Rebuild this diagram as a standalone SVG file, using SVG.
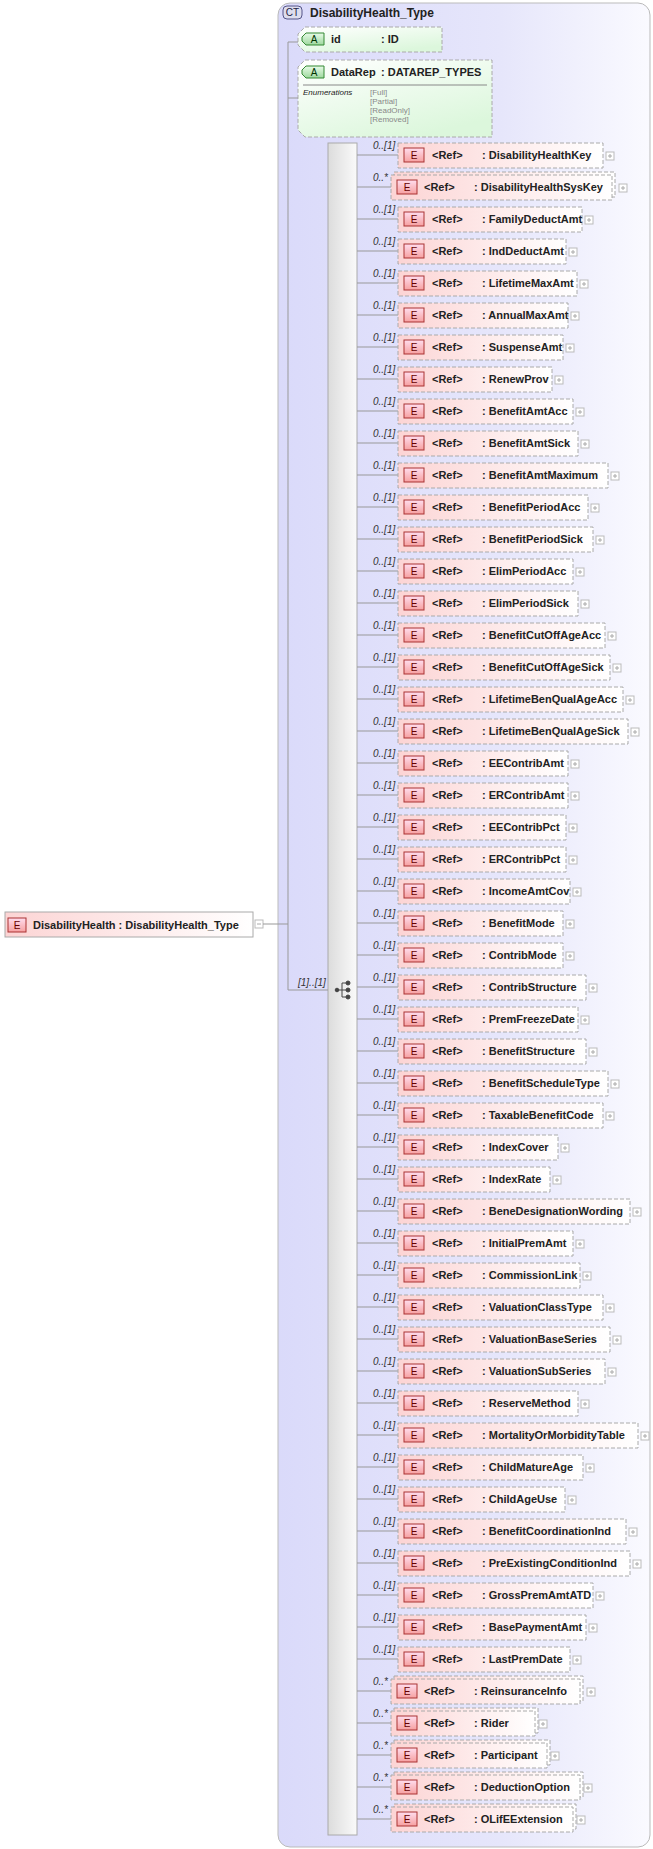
<svg xmlns="http://www.w3.org/2000/svg" width="653" height="1849" viewBox="0 0 653 1849">
<style>
text{font-family:"Liberation Sans",Arial,sans-serif;font-size:11px;fill:#222}
.b{font-weight:bold}
.m{font-style:italic;font-size:10px;fill:#333}
.eb{fill:url(#eg);stroke:#aaa;stroke-dasharray:4 2}
.ebs{fill:url(#eg);stroke:#aaa;stroke-dasharray:4 2}
.bd{fill:url(#bg);stroke:#a33}
.bt{font-size:10px;text-anchor:middle;fill:#600}
.pl{fill:#fff;stroke:#bbb}
.pt{stroke:#aaa;stroke-width:1}
.ln{stroke:#999;fill:none}
.en{font-size:8px;fill:#888}
</style>
<defs>
<linearGradient id="eg" x1="0" y1="0" x2="1" y2="0"><stop offset="0" stop-color="#fcd4d4"/><stop offset="1" stop-color="#fff"/></linearGradient>
<linearGradient id="bg" x1="0" y1="0" x2="0" y2="1"><stop offset="0" stop-color="#fde"/><stop offset="1" stop-color="#f6a0a0"/></linearGradient>
<linearGradient id="ag" x1="0" y1="0" x2="0.6" y2="1"><stop offset="0" stop-color="#fff"/><stop offset="1" stop-color="#dcf7dc"/></linearGradient>
<linearGradient id="ab" x1="0" y1="0" x2="0" y2="1"><stop offset="0" stop-color="#e8fbe8"/><stop offset="1" stop-color="#9ed89e"/></linearGradient>
<linearGradient id="pg" x1="0" y1="0" x2="1" y2="0"><stop offset="0" stop-color="#dadafa"/><stop offset="0.6" stop-color="#e6e6fb"/><stop offset="1" stop-color="#fafaff"/></linearGradient>
<linearGradient id="sg" x1="0" y1="0" x2="1" y2="0"><stop offset="0" stop-color="#dcdcdc"/><stop offset="1" stop-color="#fafafa"/></linearGradient>
<symbol id="pl" overflow="visible"><rect x="0" y="0" width="8" height="8" class="pl"/><path d="M2,4 H6 M4,2 V6" class="pt"/></symbol>
</defs>
<g id="ct">
<rect x="278" y="3" width="372" height="1844" rx="12" fill="url(#pg)" stroke="#bbb"/>
<rect x="283" y="6" width="19" height="13" rx="4" fill="#dde" stroke="#558"/>
<text x="292.5" y="16" class="bt" style="fill:#224">CT</text>
<text x="310" y="17" class="b" style="font-size:12px">DisabilityHealth_Type</text>
</g>
<g id="root">
<rect x="5" y="912" width="248" height="25" fill="url(#eg)" stroke="#aaa"/>
<rect x="8" y="918" width="18" height="14" class="bd"/><text x="17" y="929" class="bt">E</text>
<text x="33" y="929" class="b">DisabilityHealth : DisabilityHealth_Type</text>
<rect x="255" y="920" width="8" height="8" class="pl"/><line x1="257" y1="924" x2="261" y2="924" class="pt"/>
</g>
<g id="attr-id">
<path d="M305,27 H442 V52 H305 L298,45 V34 Z" fill="url(#ag)" stroke="#aaa" stroke-dasharray="4 2"/>
<path d="M306,33 H324 V45 H306 L302,41 V37 Z" fill="url(#ab)" stroke="#383"/>
<text x="314" y="43" class="bt" style="fill:#030">A</text>
<text x="331" y="43" class="b">id</text><text x="381" y="43" class="b">: ID</text>
</g>
<g id="attr-DataRep">
<path d="M305,60 H492 V137 H305 L298,130 V67 Z" fill="url(#ag)" stroke="#aaa" stroke-dasharray="4 2"/>
<path d="M306,66 H324 V78 H306 L302,74 V70 Z" fill="url(#ab)" stroke="#383"/>
<text x="314" y="76" class="bt" style="fill:#030">A</text>
<text x="331" y="76" class="b">DataRep</text><text x="381" y="76" class="b">: DATAREP_TYPES</text>
<line x1="303" y1="85" x2="487" y2="85" stroke="#888"/>
<text x="303" y="95" style="font-size:8px;font-style:italic">Enumerations</text>
<text x="370" y="95" class="en">[Full]</text><text x="370" y="104" class="en">[Partial]</text><text x="370" y="113" class="en">[ReadOnly]</text><text x="370" y="122" class="en">[Removed]</text>
</g>
<g id="sequence">
<rect x="328" y="143" width="29" height="1692" fill="url(#sg)" stroke="#aaa"/>
<g fill="#444" stroke="#444"><circle cx="337" cy="990" r="1.8"/><line x1="337" y1="990" x2="342" y2="990"/><line x1="342" y1="983" x2="342" y2="997"/><line x1="342" y1="983" x2="348" y2="983"/><line x1="342" y1="990" x2="348" y2="990"/><line x1="342" y1="997" x2="348" y2="997"/><circle cx="348" cy="983" r="2"/><circle cx="348" cy="990" r="2"/><circle cx="348" cy="997" r="2"/></g>
</g>
<g id="connectors" class="ln">
<path d="M263,924 H288 M288,42 V990 M288,42 H298 M288,98 H298 M288,990 H328"/>
<path id="rows" d="M357,155 H398 M357,187 H391 M357,219 H398 M357,251 H398 M357,283 H398 M357,315 H398 M357,347 H398 M357,379 H398 M357,411 H398 M357,443 H398 M357,475 H398 M357,507 H398 M357,539 H398 M357,571 H398 M357,603 H398 M357,635 H398 M357,667 H398 M357,699 H398 M357,731 H398 M357,763 H398 M357,795 H398 M357,827 H398 M357,859 H398 M357,891 H398 M357,923 H398 M357,955 H398 M357,987 H398 M357,1019 H398 M357,1051 H398 M357,1083 H398 M357,1115 H398 M357,1147 H398 M357,1179 H398 M357,1211 H398 M357,1243 H398 M357,1275 H398 M357,1307 H398 M357,1339 H398 M357,1371 H398 M357,1403 H398 M357,1435 H398 M357,1467 H398 M357,1499 H398 M357,1531 H398 M357,1563 H398 M357,1595 H398 M357,1627 H398 M357,1659 H398 M357,1691 H391 M357,1723 H391 M357,1755 H391 M357,1787 H391 M357,1819 H391"/>
</g>
<g id="labels">
<text x="298" y="986" class="m">[1]..[1]</text>
<text x="373" y="149" class="m">0..[1]</text><text x="373" y="181" class="m">0..*</text>
<text x="373" y="213" class="m">0..[1]</text><text x="373" y="245" class="m">0..[1]</text><text x="373" y="277" class="m">0..[1]</text><text x="373" y="309" class="m">0..[1]</text><text x="373" y="341" class="m">0..[1]</text><text x="373" y="373" class="m">0..[1]</text><text x="373" y="405" class="m">0..[1]</text><text x="373" y="437" class="m">0..[1]</text><text x="373" y="469" class="m">0..[1]</text><text x="373" y="501" class="m">0..[1]</text><text x="373" y="533" class="m">0..[1]</text><text x="373" y="565" class="m">0..[1]</text><text x="373" y="597" class="m">0..[1]</text><text x="373" y="629" class="m">0..[1]</text><text x="373" y="661" class="m">0..[1]</text><text x="373" y="693" class="m">0..[1]</text><text x="373" y="725" class="m">0..[1]</text><text x="373" y="757" class="m">0..[1]</text><text x="373" y="789" class="m">0..[1]</text><text x="373" y="821" class="m">0..[1]</text><text x="373" y="853" class="m">0..[1]</text><text x="373" y="885" class="m">0..[1]</text><text x="373" y="917" class="m">0..[1]</text><text x="373" y="949" class="m">0..[1]</text><text x="373" y="981" class="m">0..[1]</text><text x="373" y="1013" class="m">0..[1]</text><text x="373" y="1045" class="m">0..[1]</text><text x="373" y="1077" class="m">0..[1]</text><text x="373" y="1109" class="m">0..[1]</text><text x="373" y="1141" class="m">0..[1]</text><text x="373" y="1173" class="m">0..[1]</text><text x="373" y="1205" class="m">0..[1]</text><text x="373" y="1237" class="m">0..[1]</text><text x="373" y="1269" class="m">0..[1]</text><text x="373" y="1301" class="m">0..[1]</text><text x="373" y="1333" class="m">0..[1]</text><text x="373" y="1365" class="m">0..[1]</text><text x="373" y="1397" class="m">0..[1]</text><text x="373" y="1429" class="m">0..[1]</text><text x="373" y="1461" class="m">0..[1]</text><text x="373" y="1493" class="m">0..[1]</text><text x="373" y="1525" class="m">0..[1]</text><text x="373" y="1557" class="m">0..[1]</text><text x="373" y="1589" class="m">0..[1]</text><text x="373" y="1621" class="m">0..[1]</text><text x="373" y="1653" class="m">0..[1]</text>
<text x="373" y="1685" class="m">0..*</text><text x="373" y="1717" class="m">0..*</text><text x="373" y="1749" class="m">0..*</text><text x="373" y="1781" class="m">0..*</text><text x="373" y="1813" class="m">0..*</text>
</g>
<g id="e-DisabilityHealthKey"><rect class="eb" x="398" y="143" width="205" height="25"/><rect class="bd" x="404" y="148" width="20" height="14"/><text class="bt" x="414" y="159">E</text><text class="b" x="432" y="159">&lt;Ref&gt;</text><text class="b" x="482" y="159">: DisabilityHealthKey</text><use href="#pl" x="606" y="152"/></g>
<g id="e-DisabilityHealthSysKey"><rect class="eb" x="394" y="172" width="221" height="25"/><rect class="ebs" x="391" y="175" width="221" height="25"/><rect class="bd" x="397" y="180" width="20" height="14"/><text class="bt" x="407" y="191">E</text><text class="b" x="424" y="191">&lt;Ref&gt;</text><text class="b" x="474" y="191">: DisabilityHealthSysKey</text><use href="#pl" x="619" y="184"/></g>
<g id="e-FamilyDeductAmt"><rect class="eb" x="398" y="207" width="184" height="25"/><rect class="bd" x="404" y="212" width="20" height="14"/><text class="bt" x="414" y="223">E</text><text class="b" x="432" y="223">&lt;Ref&gt;</text><text class="b" x="482" y="223">: FamilyDeductAmt</text><use href="#pl" x="585" y="216"/></g>
<g id="e-IndDeductAmt"><rect class="eb" x="398" y="239" width="168" height="25"/><rect class="bd" x="404" y="244" width="20" height="14"/><text class="bt" x="414" y="255">E</text><text class="b" x="432" y="255">&lt;Ref&gt;</text><text class="b" x="482" y="255">: IndDeductAmt</text><use href="#pl" x="569" y="248"/></g>
<g id="e-LifetimeMaxAmt"><rect class="eb" x="398" y="271" width="179" height="25"/><rect class="bd" x="404" y="276" width="20" height="14"/><text class="bt" x="414" y="287">E</text><text class="b" x="432" y="287">&lt;Ref&gt;</text><text class="b" x="482" y="287">: LifetimeMaxAmt</text><use href="#pl" x="580" y="280"/></g>
<g id="e-AnnualMaxAmt"><rect class="eb" x="398" y="303" width="170" height="25"/><rect class="bd" x="404" y="308" width="20" height="14"/><text class="bt" x="414" y="319">E</text><text class="b" x="432" y="319">&lt;Ref&gt;</text><text class="b" x="482" y="319">: AnnualMaxAmt</text><use href="#pl" x="571" y="312"/></g>
<g id="e-SuspenseAmt"><rect class="eb" x="398" y="335" width="165" height="25"/><rect class="bd" x="404" y="340" width="20" height="14"/><text class="bt" x="414" y="351">E</text><text class="b" x="432" y="351">&lt;Ref&gt;</text><text class="b" x="482" y="351">: SuspenseAmt</text><use href="#pl" x="566" y="344"/></g>
<g id="e-RenewProv"><rect class="eb" x="398" y="367" width="154" height="25"/><rect class="bd" x="404" y="372" width="20" height="14"/><text class="bt" x="414" y="383">E</text><text class="b" x="432" y="383">&lt;Ref&gt;</text><text class="b" x="482" y="383">: RenewProv</text><use href="#pl" x="555" y="376"/></g>
<g id="e-BenefitAmtAcc"><rect class="eb" x="398" y="399" width="175" height="25"/><rect class="bd" x="404" y="404" width="20" height="14"/><text class="bt" x="414" y="415">E</text><text class="b" x="432" y="415">&lt;Ref&gt;</text><text class="b" x="482" y="415">: BenefitAmtAcc</text><use href="#pl" x="576" y="408"/></g>
<g id="e-BenefitAmtSick"><rect class="eb" x="398" y="431" width="180" height="25"/><rect class="bd" x="404" y="436" width="20" height="14"/><text class="bt" x="414" y="447">E</text><text class="b" x="432" y="447">&lt;Ref&gt;</text><text class="b" x="482" y="447">: BenefitAmtSick</text><use href="#pl" x="581" y="440"/></g>
<g id="e-BenefitAmtMaximum"><rect class="eb" x="398" y="463" width="210" height="25"/><rect class="bd" x="404" y="468" width="20" height="14"/><text class="bt" x="414" y="479">E</text><text class="b" x="432" y="479">&lt;Ref&gt;</text><text class="b" x="482" y="479">: BenefitAmtMaximum</text><use href="#pl" x="611" y="472"/></g>
<g id="e-BenefitPeriodAcc"><rect class="eb" x="398" y="495" width="190" height="25"/><rect class="bd" x="404" y="500" width="20" height="14"/><text class="bt" x="414" y="511">E</text><text class="b" x="432" y="511">&lt;Ref&gt;</text><text class="b" x="482" y="511">: BenefitPeriodAcc</text><use href="#pl" x="591" y="504"/></g>
<g id="e-BenefitPeriodSick"><rect class="eb" x="398" y="527" width="195" height="25"/><rect class="bd" x="404" y="532" width="20" height="14"/><text class="bt" x="414" y="543">E</text><text class="b" x="432" y="543">&lt;Ref&gt;</text><text class="b" x="482" y="543">: BenefitPeriodSick</text><use href="#pl" x="596" y="536"/></g>
<g id="e-ElimPeriodAcc"><rect class="eb" x="398" y="559" width="175" height="25"/><rect class="bd" x="404" y="564" width="20" height="14"/><text class="bt" x="414" y="575">E</text><text class="b" x="432" y="575">&lt;Ref&gt;</text><text class="b" x="482" y="575">: ElimPeriodAcc</text><use href="#pl" x="576" y="568"/></g>
<g id="e-ElimPeriodSick"><rect class="eb" x="398" y="591" width="180" height="25"/><rect class="bd" x="404" y="596" width="20" height="14"/><text class="bt" x="414" y="607">E</text><text class="b" x="432" y="607">&lt;Ref&gt;</text><text class="b" x="482" y="607">: ElimPeriodSick</text><use href="#pl" x="581" y="600"/></g>
<g id="e-BenefitCutOffAgeAcc"><rect class="eb" x="398" y="623" width="207" height="25"/><rect class="bd" x="404" y="628" width="20" height="14"/><text class="bt" x="414" y="639">E</text><text class="b" x="432" y="639">&lt;Ref&gt;</text><text class="b" x="482" y="639">: BenefitCutOffAgeAcc</text><use href="#pl" x="608" y="632"/></g>
<g id="e-BenefitCutOffAgeSick"><rect class="eb" x="398" y="655" width="212" height="25"/><rect class="bd" x="404" y="660" width="20" height="14"/><text class="bt" x="414" y="671">E</text><text class="b" x="432" y="671">&lt;Ref&gt;</text><text class="b" x="482" y="671">: BenefitCutOffAgeSick</text><use href="#pl" x="613" y="664"/></g>
<g id="e-LifetimeBenQualAgeAcc"><rect class="eb" x="398" y="687" width="225" height="25"/><rect class="bd" x="404" y="692" width="20" height="14"/><text class="bt" x="414" y="703">E</text><text class="b" x="432" y="703">&lt;Ref&gt;</text><text class="b" x="482" y="703">: LifetimeBenQualAgeAcc</text><use href="#pl" x="626" y="696"/></g>
<g id="e-LifetimeBenQualAgeSick"><rect class="eb" x="398" y="719" width="230" height="25"/><rect class="bd" x="404" y="724" width="20" height="14"/><text class="bt" x="414" y="735">E</text><text class="b" x="432" y="735">&lt;Ref&gt;</text><text class="b" x="482" y="735">: LifetimeBenQualAgeSick</text><use href="#pl" x="631" y="728"/></g>
<g id="e-EEContribAmt"><rect class="eb" x="398" y="751" width="170" height="25"/><rect class="bd" x="404" y="756" width="20" height="14"/><text class="bt" x="414" y="767">E</text><text class="b" x="432" y="767">&lt;Ref&gt;</text><text class="b" x="482" y="767">: EEContribAmt</text><use href="#pl" x="571" y="760"/></g>
<g id="e-ERContribAmt"><rect class="eb" x="398" y="783" width="170" height="25"/><rect class="bd" x="404" y="788" width="20" height="14"/><text class="bt" x="414" y="799">E</text><text class="b" x="432" y="799">&lt;Ref&gt;</text><text class="b" x="482" y="799">: ERContribAmt</text><use href="#pl" x="571" y="792"/></g>
<g id="e-EEContribPct"><rect class="eb" x="398" y="815" width="168" height="25"/><rect class="bd" x="404" y="820" width="20" height="14"/><text class="bt" x="414" y="831">E</text><text class="b" x="432" y="831">&lt;Ref&gt;</text><text class="b" x="482" y="831">: EEContribPct</text><use href="#pl" x="569" y="824"/></g>
<g id="e-ERContribPct"><rect class="eb" x="398" y="847" width="168" height="25"/><rect class="bd" x="404" y="852" width="20" height="14"/><text class="bt" x="414" y="863">E</text><text class="b" x="432" y="863">&lt;Ref&gt;</text><text class="b" x="482" y="863">: ERContribPct</text><use href="#pl" x="569" y="856"/></g>
<g id="e-IncomeAmtCov"><rect class="eb" x="398" y="879" width="172" height="25"/><rect class="bd" x="404" y="884" width="20" height="14"/><text class="bt" x="414" y="895">E</text><text class="b" x="432" y="895">&lt;Ref&gt;</text><text class="b" x="482" y="895">: IncomeAmtCov</text><use href="#pl" x="573" y="888"/></g>
<g id="e-BenefitMode"><rect class="eb" x="398" y="911" width="165" height="25"/><rect class="bd" x="404" y="916" width="20" height="14"/><text class="bt" x="414" y="927">E</text><text class="b" x="432" y="927">&lt;Ref&gt;</text><text class="b" x="482" y="927">: BenefitMode</text><use href="#pl" x="566" y="920"/></g>
<g id="e-ContribMode"><rect class="eb" x="398" y="943" width="165" height="25"/><rect class="bd" x="404" y="948" width="20" height="14"/><text class="bt" x="414" y="959">E</text><text class="b" x="432" y="959">&lt;Ref&gt;</text><text class="b" x="482" y="959">: ContribMode</text><use href="#pl" x="566" y="952"/></g>
<g id="e-ContribStructure"><rect class="eb" x="398" y="975" width="188" height="25"/><rect class="bd" x="404" y="980" width="20" height="14"/><text class="bt" x="414" y="991">E</text><text class="b" x="432" y="991">&lt;Ref&gt;</text><text class="b" x="482" y="991">: ContribStructure</text><use href="#pl" x="589" y="984"/></g>
<g id="e-PremFreezeDate"><rect class="eb" x="398" y="1007" width="180" height="25"/><rect class="bd" x="404" y="1012" width="20" height="14"/><text class="bt" x="414" y="1023">E</text><text class="b" x="432" y="1023">&lt;Ref&gt;</text><text class="b" x="482" y="1023">: PremFreezeDate</text><use href="#pl" x="581" y="1016"/></g>
<g id="e-BenefitStructure"><rect class="eb" x="398" y="1039" width="188" height="25"/><rect class="bd" x="404" y="1044" width="20" height="14"/><text class="bt" x="414" y="1055">E</text><text class="b" x="432" y="1055">&lt;Ref&gt;</text><text class="b" x="482" y="1055">: BenefitStructure</text><use href="#pl" x="589" y="1048"/></g>
<g id="e-BenefitScheduleType"><rect class="eb" x="398" y="1071" width="210" height="25"/><rect class="bd" x="404" y="1076" width="20" height="14"/><text class="bt" x="414" y="1087">E</text><text class="b" x="432" y="1087">&lt;Ref&gt;</text><text class="b" x="482" y="1087">: BenefitScheduleType</text><use href="#pl" x="611" y="1080"/></g>
<g id="e-TaxableBenefitCode"><rect class="eb" x="398" y="1103" width="205" height="25"/><rect class="bd" x="404" y="1108" width="20" height="14"/><text class="bt" x="414" y="1119">E</text><text class="b" x="432" y="1119">&lt;Ref&gt;</text><text class="b" x="482" y="1119">: TaxableBenefitCode</text><use href="#pl" x="606" y="1112"/></g>
<g id="e-IndexCover"><rect class="eb" x="398" y="1135" width="160" height="25"/><rect class="bd" x="404" y="1140" width="20" height="14"/><text class="bt" x="414" y="1151">E</text><text class="b" x="432" y="1151">&lt;Ref&gt;</text><text class="b" x="482" y="1151">: IndexCover</text><use href="#pl" x="561" y="1144"/></g>
<g id="e-IndexRate"><rect class="eb" x="398" y="1167" width="152" height="25"/><rect class="bd" x="404" y="1172" width="20" height="14"/><text class="bt" x="414" y="1183">E</text><text class="b" x="432" y="1183">&lt;Ref&gt;</text><text class="b" x="482" y="1183">: IndexRate</text><use href="#pl" x="553" y="1176"/></g>
<g id="e-BeneDesignationWording"><rect class="eb" x="398" y="1199" width="232" height="25"/><rect class="bd" x="404" y="1204" width="20" height="14"/><text class="bt" x="414" y="1215">E</text><text class="b" x="432" y="1215">&lt;Ref&gt;</text><text class="b" x="482" y="1215">: BeneDesignationWording</text><use href="#pl" x="633" y="1208"/></g>
<g id="e-InitialPremAmt"><rect class="eb" x="398" y="1231" width="175" height="25"/><rect class="bd" x="404" y="1236" width="20" height="14"/><text class="bt" x="414" y="1247">E</text><text class="b" x="432" y="1247">&lt;Ref&gt;</text><text class="b" x="482" y="1247">: InitialPremAmt</text><use href="#pl" x="576" y="1240"/></g>
<g id="e-CommissionLink"><rect class="eb" x="398" y="1263" width="182" height="25"/><rect class="bd" x="404" y="1268" width="20" height="14"/><text class="bt" x="414" y="1279">E</text><text class="b" x="432" y="1279">&lt;Ref&gt;</text><text class="b" x="482" y="1279">: CommissionLink</text><use href="#pl" x="583" y="1272"/></g>
<g id="e-ValuationClassType"><rect class="eb" x="398" y="1295" width="205" height="25"/><rect class="bd" x="404" y="1300" width="20" height="14"/><text class="bt" x="414" y="1311">E</text><text class="b" x="432" y="1311">&lt;Ref&gt;</text><text class="b" x="482" y="1311">: ValuationClassType</text><use href="#pl" x="606" y="1304"/></g>
<g id="e-ValuationBaseSeries"><rect class="eb" x="398" y="1327" width="212" height="25"/><rect class="bd" x="404" y="1332" width="20" height="14"/><text class="bt" x="414" y="1343">E</text><text class="b" x="432" y="1343">&lt;Ref&gt;</text><text class="b" x="482" y="1343">: ValuationBaseSeries</text><use href="#pl" x="613" y="1336"/></g>
<g id="e-ValuationSubSeries"><rect class="eb" x="398" y="1359" width="207" height="25"/><rect class="bd" x="404" y="1364" width="20" height="14"/><text class="bt" x="414" y="1375">E</text><text class="b" x="432" y="1375">&lt;Ref&gt;</text><text class="b" x="482" y="1375">: ValuationSubSeries</text><use href="#pl" x="608" y="1368"/></g>
<g id="e-ReserveMethod"><rect class="eb" x="398" y="1391" width="180" height="25"/><rect class="bd" x="404" y="1396" width="20" height="14"/><text class="bt" x="414" y="1407">E</text><text class="b" x="432" y="1407">&lt;Ref&gt;</text><text class="b" x="482" y="1407">: ReserveMethod</text><use href="#pl" x="581" y="1400"/></g>
<g id="e-MortalityOrMorbidityTable"><rect class="eb" x="398" y="1423" width="240" height="25"/><rect class="bd" x="404" y="1428" width="20" height="14"/><text class="bt" x="414" y="1439">E</text><text class="b" x="432" y="1439">&lt;Ref&gt;</text><text class="b" x="482" y="1439">: MortalityOrMorbidityTable</text><use href="#pl" x="641" y="1432"/></g>
<g id="e-ChildMatureAge"><rect class="eb" x="398" y="1455" width="185" height="25"/><rect class="bd" x="404" y="1460" width="20" height="14"/><text class="bt" x="414" y="1471">E</text><text class="b" x="432" y="1471">&lt;Ref&gt;</text><text class="b" x="482" y="1471">: ChildMatureAge</text><use href="#pl" x="586" y="1464"/></g>
<g id="e-ChildAgeUse"><rect class="eb" x="398" y="1487" width="167" height="25"/><rect class="bd" x="404" y="1492" width="20" height="14"/><text class="bt" x="414" y="1503">E</text><text class="b" x="432" y="1503">&lt;Ref&gt;</text><text class="b" x="482" y="1503">: ChildAgeUse</text><use href="#pl" x="568" y="1496"/></g>
<g id="e-BenefitCoordinationInd"><rect class="eb" x="398" y="1519" width="228" height="25"/><rect class="bd" x="404" y="1524" width="20" height="14"/><text class="bt" x="414" y="1535">E</text><text class="b" x="432" y="1535">&lt;Ref&gt;</text><text class="b" x="482" y="1535">: BenefitCoordinationInd</text><use href="#pl" x="629" y="1528"/></g>
<g id="e-PreExistingConditionInd"><rect class="eb" x="398" y="1551" width="232" height="25"/><rect class="bd" x="404" y="1556" width="20" height="14"/><text class="bt" x="414" y="1567">E</text><text class="b" x="432" y="1567">&lt;Ref&gt;</text><text class="b" x="482" y="1567">: PreExistingConditionInd</text><use href="#pl" x="633" y="1560"/></g>
<g id="e-GrossPremAmtATD"><rect class="eb" x="398" y="1583" width="195" height="25"/><rect class="bd" x="404" y="1588" width="20" height="14"/><text class="bt" x="414" y="1599">E</text><text class="b" x="432" y="1599">&lt;Ref&gt;</text><text class="b" x="482" y="1599">: GrossPremAmtATD</text><use href="#pl" x="596" y="1592"/></g>
<g id="e-BasePaymentAmt"><rect class="eb" x="398" y="1615" width="188" height="25"/><rect class="bd" x="404" y="1620" width="20" height="14"/><text class="bt" x="414" y="1631">E</text><text class="b" x="432" y="1631">&lt;Ref&gt;</text><text class="b" x="482" y="1631">: BasePaymentAmt</text><use href="#pl" x="589" y="1624"/></g>
<g id="e-LastPremDate"><rect class="eb" x="398" y="1647" width="172" height="25"/><rect class="bd" x="404" y="1652" width="20" height="14"/><text class="bt" x="414" y="1663">E</text><text class="b" x="432" y="1663">&lt;Ref&gt;</text><text class="b" x="482" y="1663">: LastPremDate</text><use href="#pl" x="573" y="1656"/></g>
<g id="e-ReinsuranceInfo"><rect class="eb" x="394" y="1676" width="189" height="25"/><rect class="ebs" x="391" y="1679" width="189" height="25"/><rect class="bd" x="397" y="1684" width="20" height="14"/><text class="bt" x="407" y="1695">E</text><text class="b" x="424" y="1695">&lt;Ref&gt;</text><text class="b" x="474" y="1695">: ReinsuranceInfo</text><use href="#pl" x="587" y="1688"/></g>
<g id="e-Rider"><rect class="eb" x="394" y="1708" width="144" height="25"/><rect class="ebs" x="391" y="1711" width="144" height="25"/><rect class="bd" x="397" y="1716" width="20" height="14"/><text class="bt" x="407" y="1727">E</text><text class="b" x="424" y="1727">&lt;Ref&gt;</text><text class="b" x="474" y="1727">: Rider</text><use href="#pl" x="539" y="1720"/></g>
<g id="e-Participant"><rect class="eb" x="394" y="1740" width="156" height="25"/><rect class="ebs" x="391" y="1743" width="156" height="25"/><rect class="bd" x="397" y="1748" width="20" height="14"/><text class="bt" x="407" y="1759">E</text><text class="b" x="424" y="1759">&lt;Ref&gt;</text><text class="b" x="474" y="1759">: Participant</text><use href="#pl" x="551" y="1752"/></g>
<g id="e-DeductionOption"><rect class="eb" x="394" y="1772" width="189" height="25"/><rect class="ebs" x="391" y="1775" width="189" height="25"/><rect class="bd" x="397" y="1780" width="20" height="14"/><text class="bt" x="407" y="1791">E</text><text class="b" x="424" y="1791">&lt;Ref&gt;</text><text class="b" x="474" y="1791">: DeductionOption</text><use href="#pl" x="584" y="1784"/></g>
<g id="e-OLifEExtension"><rect class="eb" x="394" y="1804" width="182" height="25"/><rect class="ebs" x="391" y="1807" width="182" height="25"/><rect class="bd" x="397" y="1812" width="20" height="14"/><text class="bt" x="407" y="1823">E</text><text class="b" x="424" y="1823">&lt;Ref&gt;</text><text class="b" x="474" y="1823">: OLifEExtension</text><use href="#pl" x="577" y="1816"/></g>
</svg>
